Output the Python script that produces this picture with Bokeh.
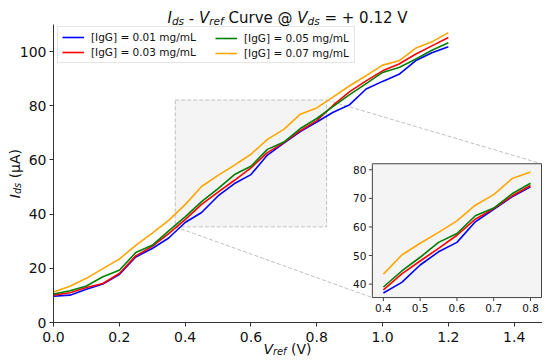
import math
from bokeh.plotting import figure
from bokeh.models import (Range1d, Label, Legend, LegendItem, FixedTicker,
                          NumeralTickFormatter)
from bokeh.core.properties import value
from bokeh.embed import file_html
from bokeh.resources import INLINE

# ---------------- data ----------------
V_REF = [0.00, 0.05, 0.10, 0.15, 0.20, 0.25, 0.30, 0.35, 0.40, 0.45, 0.50, 0.55,
         0.60, 0.65, 0.70, 0.75, 0.80, 0.85, 0.90, 0.95, 1.00, 1.05, 1.10, 1.15, 1.20]
I_001 = [9.7, 10.1, 12.3, 14.2, 17.7, 24.2, 27.3, 31.2, 36.9, 40.6, 46.7, 51.3,
         54.6, 61.8, 66.2, 70.5, 74.0, 77.6, 80.4, 86.2, 89.0, 91.6, 96.6, 99.6, 101.8]
I_003 = [10.1, 11.0, 12.9, 14.4, 18.1, 24.6, 28.1, 32.8, 38.0, 43.6, 48.1, 52.5,
         57.1, 62.7, 66.4, 70.8, 74.5, 80.2, 85.2, 89.2, 92.9, 95.4, 99.0, 102.1, 105.2]
I_005 = [10.5, 11.7, 13.5, 16.9, 19.3, 25.8, 28.5, 33.8, 39.0, 44.6, 49.4, 54.6,
         57.7, 63.9, 66.6, 71.6, 75.3, 79.8, 84.1, 88.2, 92.3, 94.1, 97.2, 100.5, 103.3]
I_007 = [11.3, 13.4, 16.3, 19.9, 23.4, 28.5, 33.0, 37.7, 43.5, 50.2, 54.3, 58.1,
         62.1, 67.6, 71.3, 76.9, 79.2, 83.3, 87.4, 91.1, 95.0, 96.6, 101.2, 103.6, 107.0]
SERIES = [I_001, I_003, I_005, I_007]
SERIES_LABELS = ["[IgG] = 0.01 mg/mL", "[IgG] = 0.03 mg/mL",
                 "[IgG] = 0.05 mg/mL", "[IgG] = 0.07 mg/mL"]
COLORS = ["blue", "red", "green", "orange"]

X_TICKS = [0.0, 0.2, 0.4, 0.6, 0.8, 1.0, 1.2, 1.4]
Y_TICKS = [0, 20, 40, 60, 80, 100]
INSET_X_TICKS = [0.4, 0.5, 0.6, 0.7, 0.8]
INSET_Y_TICKS = [40, 50, 60, 70, 80]
INSET_X_LABELS = ["0.4", "0.5", "0.6", "0.7", "0.8"]
INSET_Y_LABELS = ["40", "50", "60", "70", "80"]

ZOOM_X = (0.37, 0.83)
ZOOM_Y = (35.3, 82.1)
INSET_TARGET_X = (0.969, 1.483)
INSET_TARGET_Y = (9.2, 58.6)

FONT = "DejaVu Sans"
AX_COLOR = "#333333"

# ---------------- geometry ----------------
W, H = 542, 356
BL, BT, BB = 53, 24, 34          # axes box offsets in the canvas (left, top, bottom)
X_MAX, Y_MAX = 1.486, 110
XS = (W - BL) / X_MAX            # px per x unit
YS = (H - BT - BB) / Y_MAX       # px per y unit
X_MIN_VIEW = -BL / XS
Y_MIN_VIEW = -BB / YS
Y_MAX_VIEW = Y_MAX + BT / YS

p = figure(width=W, height=H, output_backend="svg", toolbar_location=None,
           tools="", title=None,
           x_range=Range1d(X_MIN_VIEW, X_MAX),
           y_range=Range1d(Y_MIN_VIEW, Y_MAX_VIEW),
           min_border=0)
p.grid.visible = False
p.outline_line_color = None
p.background_fill_color = "white"
p.border_fill_color = "white"

for ax in (p.xaxis[0], p.yaxis[0]):
    ax.fixed_location = 0
    ax.axis_line_color = AX_COLOR
    ax.axis_line_width = 1
    ax.major_tick_line_color = AX_COLOR
    ax.major_tick_out = 4
    ax.major_tick_in = 0
    ax.minor_tick_out = 0
    ax.minor_tick_in = 0
    ax.major_label_text_font = FONT
    ax.major_label_text_font_size = "14px"
    ax.major_label_text_color = "#111111"
p.xaxis.bounds = (0, X_MAX)
p.yaxis.bounds = (0, Y_MAX)
p.xaxis.ticker = FixedTicker(ticks=X_TICKS)
p.xaxis.formatter = NumeralTickFormatter(format="0.0")
p.yaxis.ticker = FixedTicker(ticks=Y_TICKS)
p.xaxis.major_label_standoff = 5
p.yaxis.major_label_standoff = 3

# zoom rectangle + connectors
p.quad(left=[ZOOM_X[0]], right=[ZOOM_X[1]], bottom=[ZOOM_Y[0]], top=[ZOOM_Y[1]],
       fill_color="#f4f4f4", line_color="#c0c0c0", line_dash="4 2", line_width=1)
p.segment(x0=[ZOOM_X[1], ZOOM_X[0]], y0=[ZOOM_Y[1], ZOOM_Y[0]],
          x1=[INSET_TARGET_X[1], INSET_TARGET_X[0]],
          y1=[INSET_TARGET_Y[1], INSET_TARGET_Y[0]],
          line_color="#c0c0c0", line_dash="4 2", line_width=1)

renderers = []
for ys, c in zip(SERIES, COLORS):
    renderers.append(p.line(V_REF, ys, line_color=c, line_width=1.6))

# ---------------- inset ----------------
xy = p.subplot(x_source=Range1d(*ZOOM_X), y_source=Range1d(*ZOOM_Y),
               x_target=Range1d(*INSET_TARGET_X), y_target=Range1d(*INSET_TARGET_Y))
xy.quad(left=[ZOOM_X[0]], right=[ZOOM_X[1]], bottom=[ZOOM_Y[0]], top=[ZOOM_Y[1]],
        fill_color="#f4f4f4", line_color="#444444", line_width=1)
inside = [i for i, x in enumerate(V_REF) if ZOOM_X[0] <= x <= ZOOM_X[1]]
for ys, c in zip(SERIES, COLORS):
    xy.line([V_REF[i] for i in inside], [ys[i] for i in inside],
            line_color=c, line_width=1.6)
xy.ray(x=INSET_X_TICKS, y=[ZOOM_Y[0]] * len(INSET_X_TICKS), length=3.5,
       length_units="screen", angle=-math.pi / 2, line_color="#444444")
xy.ray(x=[ZOOM_X[0]] * len(INSET_Y_TICKS), y=INSET_Y_TICKS, length=3.5,
       length_units="screen", angle=math.pi, line_color="#444444")
xy.text(x=INSET_X_TICKS, y=[ZOOM_Y[0]] * len(INSET_X_TICKS), text=INSET_X_LABELS,
        text_align="center", text_baseline="top", y_offset=6,
        text_font=value(FONT), text_font_size="10.5px", text_color="#111111")
xy.text(x=[ZOOM_X[0]] * len(INSET_Y_TICKS), y=INSET_Y_TICKS, text=INSET_Y_LABELS,
        text_align="right", text_baseline="middle", x_offset=-6,
        text_font=value(FONT), text_font_size="10.5px", text_color="#111111")

# ---------------- legends ----------------
common = dict(label_text_font=FONT, label_text_font_size="10.5px",
              label_text_color="#111111",
              glyph_width=22, glyph_height=12, label_height=12, label_standoff=7,
              padding=4, spacing=3, margin=0)
LEG_BOTTOM = H - 63
legA = Legend(items=[LegendItem(label=SERIES_LABELS[0], renderers=[renderers[0]]),
                     LegendItem(label=SERIES_LABELS[1], renderers=[renderers[1]])],
              location=(57, LEG_BOTTOM), label_width=259,
              border_line_color="#cccccc", border_line_width=1,
              background_fill_color="white", background_fill_alpha=0.8, **common)
legB = Legend(items=[LegendItem(label=SERIES_LABELS[2], renderers=[renderers[2]]),
                     LegendItem(label=SERIES_LABELS[3], renderers=[renderers[3]])],
              location=(211, LEG_BOTTOM), border_line_alpha=0,
              background_fill_alpha=0, **common)
p.add_layout(legA)
p.add_layout(legB)

# ---------------- rich-text labels ----------------
CW = {' ': 651, '(': 799, ')': 799, '+': 1716, '-': 739, '.': 651, '/': 690,
      '=': 1716, '@': 2048, 'A': 1401, 'C': 1430, 'G': 1593, 'I': 604, 'L': 1141,
      'V': 1401, 'd': 1300, 'e': 1260, 'f': 721, 'r': 842, 's': 1067, 'u': 1298,
      'v': 1212, 'μ': 1331}


def tw(s, size):
    return sum(CW.get(ch, 1303) for ch in s) / 2048.0 * size


def rich(pieces, cx, cy, size, vertical=False):
    """pieces: (text, italic, subscript); cx, cy: canvas px of centre / baseline."""
    sub = 0.7 * size
    total = sum(tw(t, sub if s else size) for t, _, s in pieces)
    pos = -total / 2.0
    for t, it, s in pieces:
        fs = sub if s else size
        lead = len(t) - len(t.lstrip(' '))
        start = pos + tw(' ' * lead, fs)
        drop = 0.22 * size if s else 0.0
        txt = t.strip(' ')
        if txt:
            if vertical:
                px, py, ang = cx + drop, cy - start, math.pi / 2
            else:
                px, py, ang = cx + start, cy + drop, 0.0
            p.add_layout(Label(x=X_MIN_VIEW + px / XS, y=Y_MIN_VIEW + (H - py) / YS,
                               x_units="data", y_units="data",
                               text=txt, angle=ang, text_font=FONT,
                               text_font_size=f"{fs:.1f}px",
                               text_font_style="italic" if it else "normal",
                               text_color="#111111", text_align="left",
                               text_baseline="alphabetic"))
        pos += tw(t, fs)


# canvas pixel positions (centre along text, baseline)
rich([("I", True, False), ("ds", True, True), (" - ", False, False),
      ("V", True, False), ("ref", True, True), (" Curve @ ", False, False),
      ("V", True, False), ("ds", True, True), (" = + 0.12 V", False, False)],
     287, 17, 15)
rich([("V", True, False), ("ref", True, True), (" (V)", False, False)],
     287, 348, 14)
rich([("I", True, False), ("ds", True, True), (" (μA)", False, False)],
     14, 173, 14, vertical=True)

open("out.html", "w").write(file_html(p, INLINE))
